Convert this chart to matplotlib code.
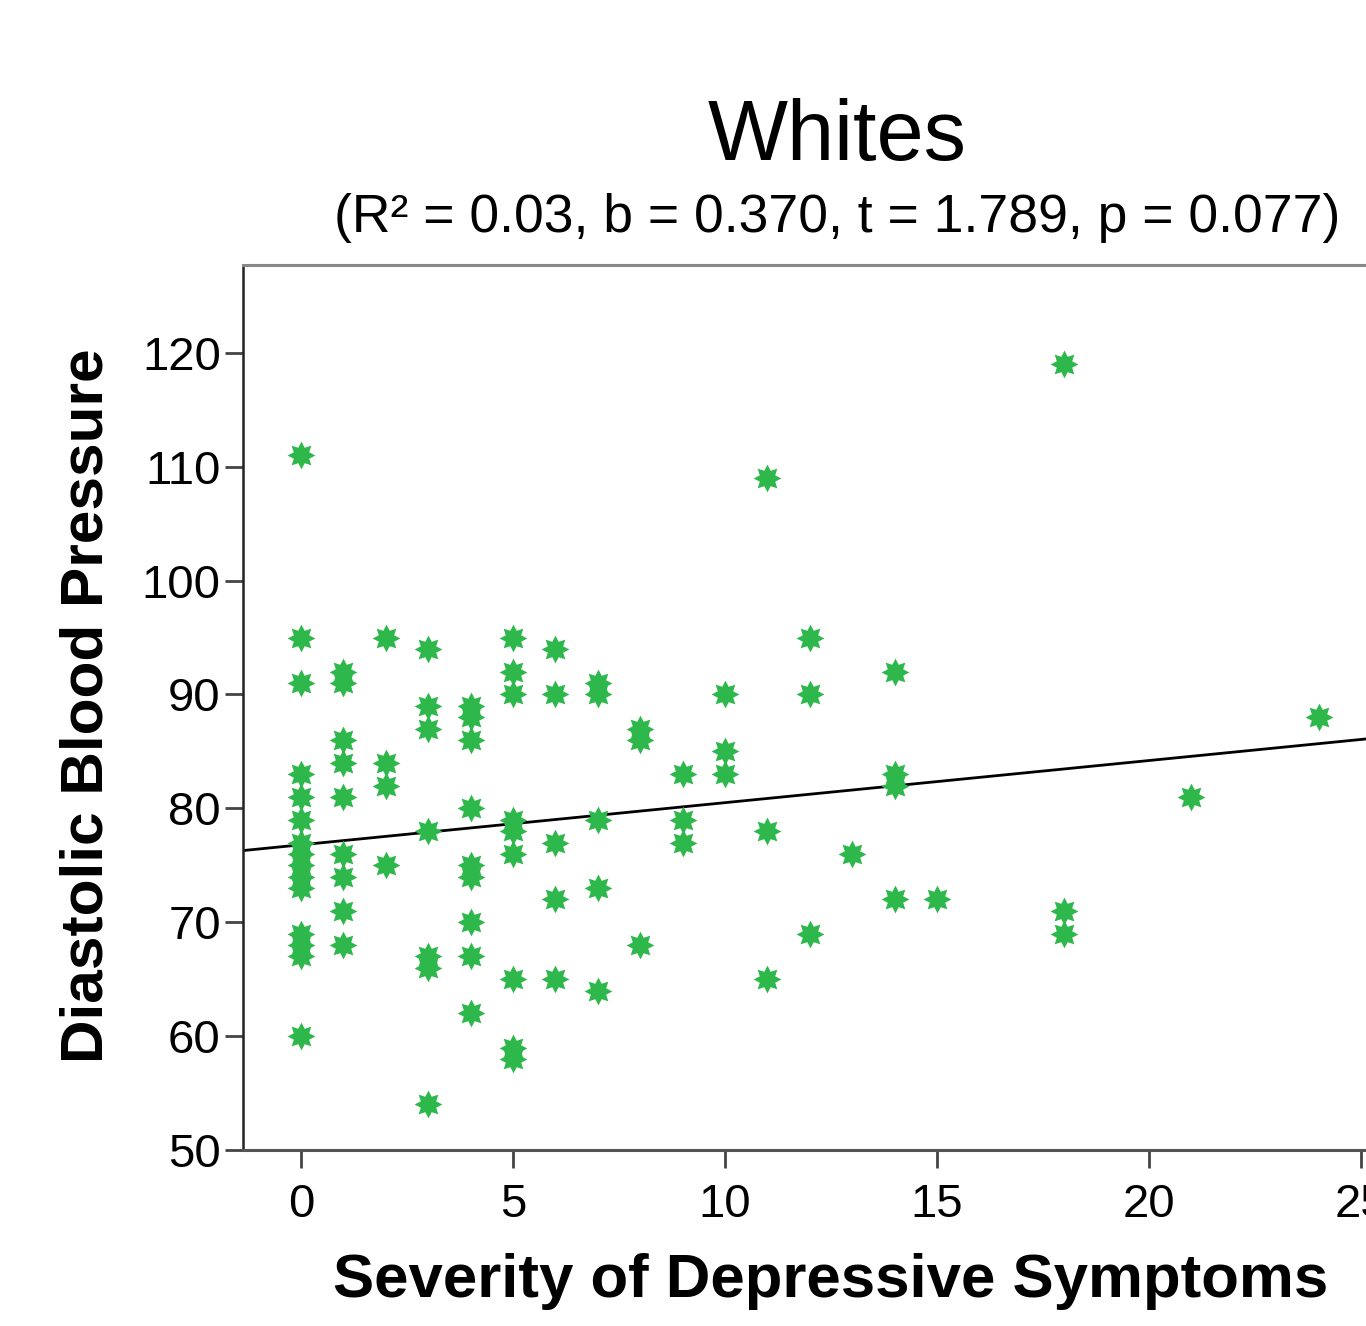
import matplotlib
matplotlib.use('Agg')
import matplotlib.pyplot as plt
import numpy as np

# Datos: síntomas depresivos (x) y presión diastólica (y)
x_vals = (
    [0] * 15 + [1] * 9 + [2] * 4 + [3] * 7 + [4] * 9 + [5] * 9 + [6] * 5 + [7] * 5
    + [8] * 3 + [9] * 3 + [10] * 3 + [11] * 3 + [12] * 3 + [13] * 1 + [14] * 4
    + [15] * 1 + [18] * 3 + [21] * 1 + [24] * 1
)
y_vals = [
    111, 95, 91, 83, 81, 79, 77, 76, 75, 74, 73, 69, 68, 67, 60,   # x=0
    92, 91, 86, 84, 81, 76, 74, 71, 68,                          # x=1
    95, 84, 82, 75,                                              # x=2
    94, 89, 87, 78, 67, 66, 54,                                  # x=3
    89, 88, 86, 80, 75, 74, 70, 67, 62,                          # x=4
    95, 92, 90, 79, 78, 76, 65, 59, 58,                          # x=5
    94, 90, 77, 72, 65,                                          # x=6
    91, 90, 79, 73, 64,                                          # x=7
    87, 86, 68,                                                  # x=8
    83, 79, 77,                                                  # x=9
    90, 85, 83,                                                  # x=10
    109, 78, 65,                                                 # x=11
    95, 90, 69,                                                  # x=12
    76,                                                          # x=13
    92, 83, 82, 72,                                              # x=14
    72,                                                          # x=15
    119, 71, 69,                                                 # x=18
    81,                                                          # x=21
    88,                                                          # x=24
]

fit_intercept = 76.8
fit_slope = 0.370

x_ticks = [0, 5, 10, 15, 20, 25]
y_ticks = [50, 60, 70, 80, 90, 100, 110, 120]

title = "Whites"
subtitle = "(R\u00b2 = 0.03, b = 0.370, t = 1.789, p = 0.077)"
xlabel = "Severity of Depressive Symptoms"
ylabel = "Diastolic Blood Pressure"

GREEN = "#2EB84B"
FONT = "Liberation Sans"

# Marcador estrella de 8 puntas
ang = np.pi / 2 + np.arange(16) * np.pi / 8
rad = np.where(np.arange(16) % 2 == 0, 1.0, 0.6)
star = np.column_stack([rad * np.cos(ang), rad * np.sin(ang)])
star = np.vstack([star, star[:1]])

plt.rcParams['font.family'] = [FONT, 'DejaVu Sans']

fig = plt.figure(figsize=(13.66, 13.26), dpi=100)
ax = fig.add_axes([0.1779, 0.1327, 0.8324, 0.6674])

ax.set_xlim(-1.368, 25.448)
ax.set_ylim(50, 127.7)

ax.scatter(x_vals, y_vals, marker=star, s=400, color=GREEN, linewidths=0, zorder=3)

xx = np.array(ax.get_xlim())
ax.plot(xx, fit_intercept + fit_slope * xx, color='black', linewidth=2, zorder=2)

ax.set_xticks(x_ticks)
ax.set_yticks(y_ticks)
ax.tick_params(axis='x', length=13, width=2, color='#444444', pad=11, labelsize=34)
ax.tick_params(axis='y', length=13, width=2, color='#444444', pad=3, labelsize=34)

ax.spines['right'].set_visible(False)
ax.spines['top'].set_color('#888888')
ax.spines['top'].set_linewidth(2.2)
ax.spines['left'].set_color('#222222')
ax.spines['left'].set_linewidth(1.8)
ax.spines['bottom'].set_color('#555555')
ax.spines['bottom'].set_linewidth(2.2)

fig.text(0.613, 0.879, title, fontsize=61, ha='center', va='baseline')
fig.text(0.613, 0.825, subtitle, fontsize=38.5, ha='center', va='baseline')
fig.text(0.608, 0.022, xlabel, fontsize=44.5, fontweight='bold', ha='center', va='baseline')
fig.text(0.064, 0.468, ylabel, fontsize=43.5, fontweight='bold', ha='center', va='center',
         rotation=90)

fig.savefig('out.png', dpi=100)
